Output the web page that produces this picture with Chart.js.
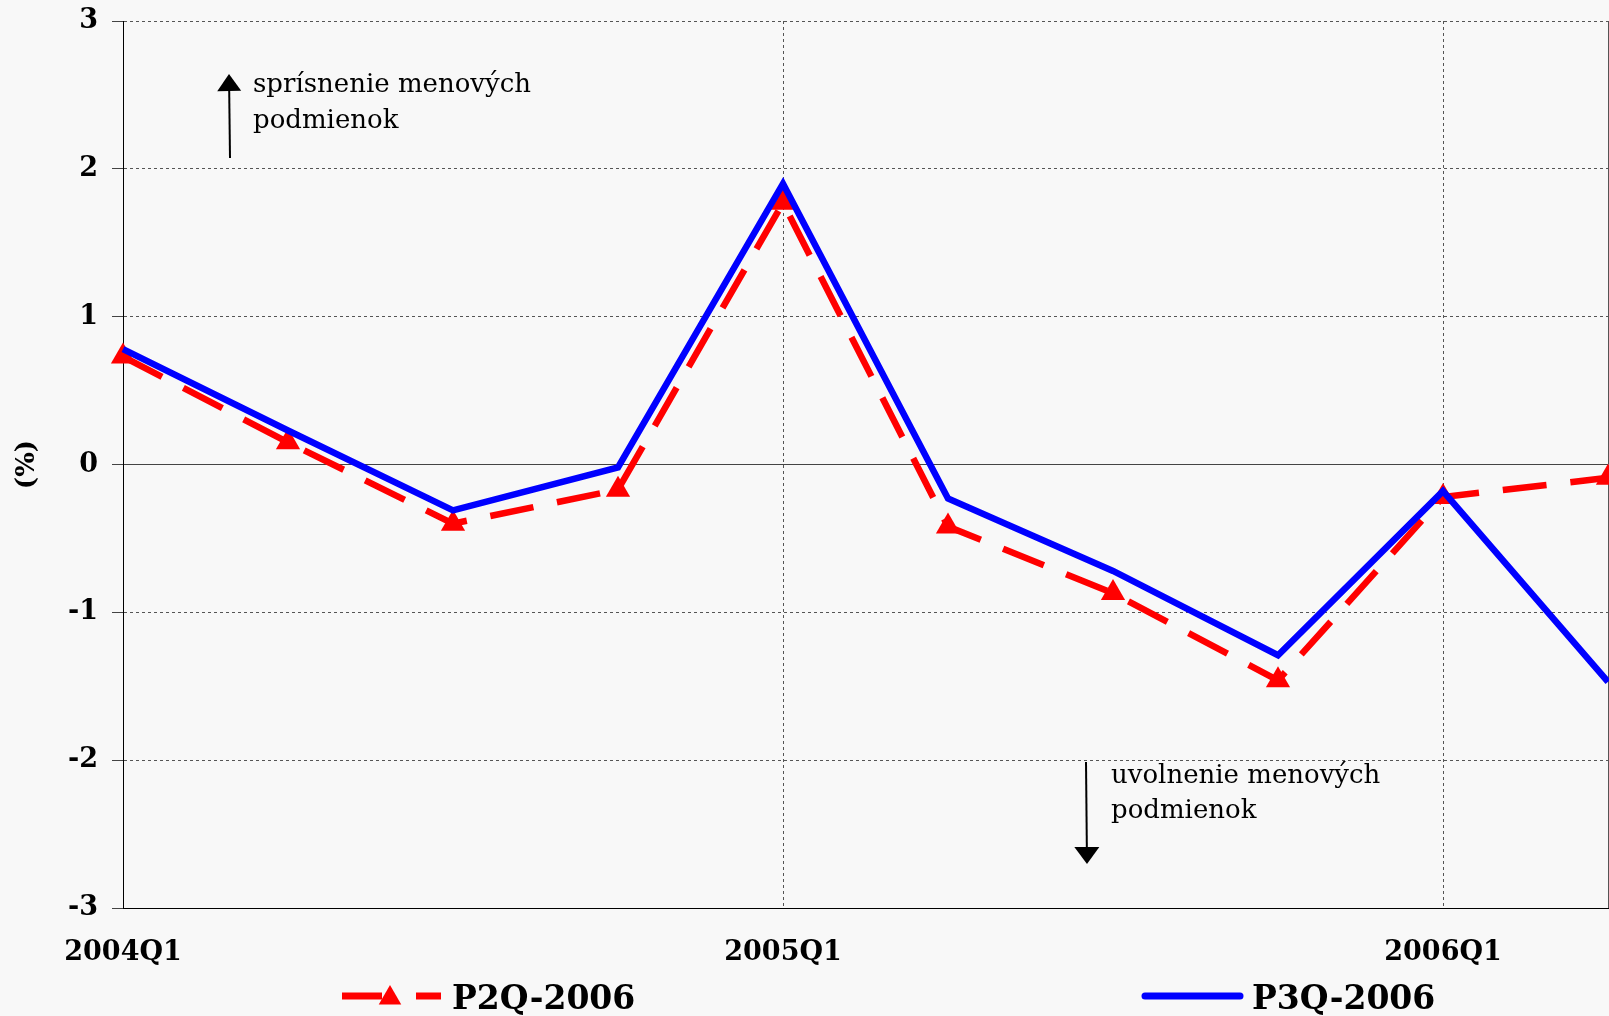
<!DOCTYPE html>
<html>
<head>
<meta charset="utf-8">
<script src="https://cdn.jsdelivr.net/npm/chart.js@4.4.1/dist/chart.umd.min.js"></script>
<style>
  html, body { margin: 0; padding: 0; background: #f8f8f8; }
  #wrap { width: 1609px; height: 1016px; }
</style>
</head>
<body>
<div id="wrap"><canvas id="chart" width="1609" height="1016"></canvas></div>
<script>
// quarters on the x axis, only every 4th one gets a label
const quarters = ["2004Q1", "2004Q2", "2004Q3", "2004Q4", "2005Q1", "2005Q2", "2005Q3", "2005Q4", "2006Q1", "2006Q2"];
const p2q2006 = [0.73, 0.15, -0.40, -0.17, 1.77, -0.42, -0.87, -1.46, -0.22, -0.09];
const p3q2006 = [0.78, 0.23, -0.31, -0.02, 1.90, -0.23, -0.72, -1.29, -0.18, -1.47];
const yMin = -3;
const yMax = 3;
const seriesNames = ["P2Q-2006", "P3Q-2006"];
const noteUp = ["sprísnenie menových", "podmienok"];
const noteDown = ["uvolnenie menových", "podmienok"];

const serif = "'DejaVu Serif', 'Liberation Serif', serif";

function arrow(ctx, x1, y1, x2, y2, headLen, headHalf) {
  // shaft from (x1,y1) to base of head, head pointing at (x2,y2)
  const ang = Math.atan2(y2 - y1, x2 - x1);
  const bx = x2 - Math.cos(ang) * headLen;
  const by = y2 - Math.sin(ang) * headLen;
  ctx.beginPath();
  ctx.moveTo(x1, y1);
  ctx.lineTo(bx, by);
  ctx.stroke();
  ctx.beginPath();
  ctx.moveTo(x2, y2);
  ctx.lineTo(bx + Math.sin(ang) * headHalf, by - Math.cos(ang) * headHalf);
  ctx.lineTo(bx - Math.sin(ang) * headHalf, by + Math.cos(ang) * headHalf);
  ctx.closePath();
  ctx.fill();
}

function triangle(ctx, x, y, r) {
  ctx.beginPath();
  ctx.moveTo(x, y - r);
  ctx.lineTo(x + r * 0.866, y + r / 2);
  ctx.lineTo(x - r * 0.866, y + r / 2);
  ctx.closePath();
  ctx.fill();
}

const notesPlugin = {
  id: "notes",
  afterDatasetsDraw(chart) {
    const ctx = chart.ctx;
    ctx.save();
    ctx.fillStyle = "#000";
    ctx.strokeStyle = "#000";
    ctx.lineWidth = 2;
    arrow(ctx, 230, 158, 229, 74, 17, 12);
    arrow(ctx, 1086, 762, 1087, 864, 17, 12.5);
    ctx.font = "26px " + serif;
    ctx.textAlign = "left";
    ctx.textBaseline = "alphabetic";
    ctx.fillText(noteUp[0], 253, 92);
    ctx.fillText(noteUp[1], 253, 128);
    ctx.fillText(noteDown[0], 1111, 783);
    ctx.fillText(noteDown[1], 1111, 818);
    ctx.restore();
  }
};

const legendPlugin = {
  id: "bottomLegend",
  afterDraw(chart) {
    const ctx = chart.ctx;
    const red = chart.data.datasets[0];
    const blue = chart.data.datasets[1];
    const y = 996;
    ctx.save();
    // red dashed item with triangle marker
    ctx.strokeStyle = red.borderColor;
    ctx.fillStyle = red.borderColor;
    ctx.lineWidth = 7;
    ctx.lineCap = "butt";
    ctx.beginPath();
    ctx.moveTo(342, y); ctx.lineTo(382, y);
    ctx.moveTo(416, y); ctx.lineTo(441, y);
    ctx.stroke();
    triangle(ctx, 390, y + 2, 13);
    // blue solid item
    ctx.strokeStyle = blue.borderColor;
    ctx.lineCap = "round";
    ctx.beginPath();
    ctx.moveTo(1145, y); ctx.lineTo(1240, y);
    ctx.stroke();
    ctx.fillStyle = "#000";
    ctx.font = "bold 33px " + serif;
    ctx.textBaseline = "alphabetic";
    ctx.fillText(red.label, 452, 1009);
    ctx.fillText(blue.label, 1252, 1009);
    ctx.restore();
  }
};

const chart = new Chart(document.getElementById("chart"), {
  type: "line",
  data: {
    labels: quarters,
    datasets: [
      {
        label: seriesNames[0],
        data: p2q2006,
        borderColor: "#ff0000",
        backgroundColor: "#ff0000",
        borderWidth: 6.5,
        borderDash: [44, 24],
        pointStyle: "triangle",
        pointRadius: 14,
        pointBorderWidth: 0,
        pointBackgroundColor: "#ff0000",
        tension: 0,
        order: 1,
      },
      {
        label: seriesNames[1],
        data: p3q2006,
        borderColor: "#0000ff",
        backgroundColor: "#0000ff",
        borderWidth: 6.5,
        pointRadius: 0,
        tension: 0,
        order: 0,
      },
    ],
  },
  options: {
    responsive: false,
    animation: false,
    layout: { autoPadding: false, padding: { top: 21, right: 1, bottom: 0, left: 0 } },
    plugins: {
      legend: { display: false },
      tooltip: { enabled: false },
    },
    scales: {
      x: {
        type: "category",
        afterFit: (scale) => {
          scale.height = 108;
          scale.paddingLeft = 0;
          scale.paddingRight = 0;
        },
        grid: {
          drawTicks: false,
          lineWidth: 1,
          color: (c) => {
            if (c.index === quarters.length - 1) return "#555";
            return c.index % 4 === 0 && c.index > 0 ? "#555" : "rgba(0,0,0,0)";
          },
        },
        border: {
          color: "#000",
          width: 1,
          dash: (c) => (c.tick && c.index < quarters.length - 1 ? [3, 3] : []),
        },
        ticks: {
          autoSkip: false,
          maxRotation: 0,
          padding: 0,
          color: "#000",
          font: { family: serif, size: 27, weight: "bold", lineHeight: 3.3 },
          callback: function (v, i) {
            return i % 4 === 0 ? this.getLabelForValue(v) : "";
          },
        },
      },
      y: {
        min: yMin,
        max: yMax,
        afterFit: (scale) => {
          scale.width = 123;
          scale.paddingTop = 0;
          scale.paddingBottom = 0;
        },
        grid: {
          tickLength: 11,
          tickColor: "#444",
          tickWidth: 1,
          color: (c) => {
            if (!c.tick) return "#555";
            if (c.tick.value === yMin) return "#000";
            if (c.tick.value === 0) return "#444";
            return "#555";
          },
        },
        border: {
          color: "#000",
          width: 1,
          dash: (c) => (c.tick && c.tick.value !== 0 && c.tick.value !== yMin ? [3, 3] : []),
        },
        ticks: {
          stepSize: 1,
          padding: 14,
          color: "#000",
          font: { family: serif, size: 27, weight: "bold" },
        },
        title: {
          display: true,
          text: "(%)",
          color: "#000",
          padding: { top: 12, bottom: 0 },
          font: { family: serif, size: 26, weight: "bold" },
        },
      },
    },
  },
  plugins: [notesPlugin, legendPlugin],
});
</script>
</body>
</html>
